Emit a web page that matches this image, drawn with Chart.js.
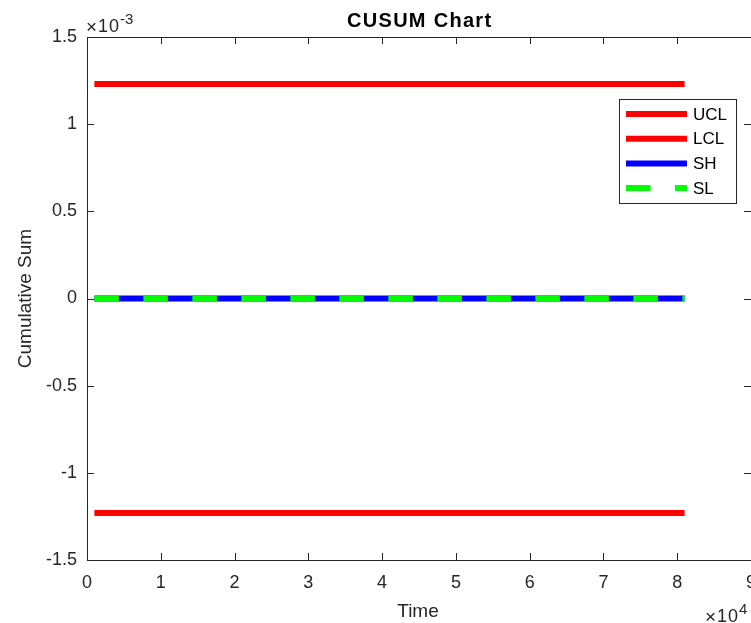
<!DOCTYPE html>
<html lang="en">
<head>
  <meta charset="UTF-8" />
  <title>CUSUM Chart</title>
  <script src="https://cdn.jsdelivr.net/npm/chart.js"></script>
  <style>
    html, body {
      margin: 0;
      padding: 0;
      background: #fff;
      overflow: hidden;
    }
    canvas {
      display: block;
    }
  </style>
</head>
<body>
  <canvas id="cusumChart" width="760" height="623"></canvas>

  <script>
    // Data
    const timePoints = [1000, 81000];
    const uclValues = [0.00123, 0.00123];
    const lclValues = [-0.00123, -0.00123];
    const shValues = [0, 0];
    const slValues = [0, 0];

    const xTickValues = [0, 10000, 20000, 30000, 40000, 50000, 60000, 70000, 80000, 90000];
    const xTickLabels = ['0', '1', '2', '3', '4', '5', '6', '7', '8', '9'];
    const yTickValues = [-0.0015, -0.001, -0.0005, 0, 0.0005, 0.001, 0.0015];
    const yTickLabels = ['-1.5', '-1', '-0.5', '0', '0.5', '1', '1.5'];

    const axisColor = '#262626';
    const fontFamily = '"Liberation Sans", Arial, Helvetica, sans-serif';

    function toPoints(values) {
      return values.map((v, i) => ({ x: timePoints[i], y: v }));
    }

    // x10^n label: thin times sign, base and raised exponent
    function drawExponent(ctx, x, baseline, exp) {
      ctx.textAlign = 'left';
      ctx.textBaseline = 'alphabetic';
      ctx.font = '19px ' + fontFamily;
      ctx.fillText('\u00d7', x - 1, baseline + 1);
      ctx.font = '18px ' + fontFamily;
      ctx.letterSpacing = '1px';
      ctx.fillText('10', x + 11, baseline);
      ctx.letterSpacing = '0px';
      ctx.font = '15px ' + fontFamily;
      ctx.fillText(exp, x + 33, baseline - 8);
    }

    // box, inward ticks, texts and legend drawn in MATLAB style
    const matlabAxes = {
      id: 'matlabAxes',
      afterDraw(chart) {
        const ctx = chart.ctx;
        const area = chart.chartArea;
        const xs = chart.scales.x;
        const ys = chart.scales.y;
        ctx.save();

        ctx.strokeStyle = axisColor;
        ctx.lineWidth = 1;
        ctx.strokeRect(area.left + 0.5, area.top + 0.5, area.right - area.left, area.bottom - area.top);

        ctx.beginPath();
        xTickValues.forEach(v => {
          const px = Math.round(xs.getPixelForValue(v)) + 0.5;
          ctx.moveTo(px, area.bottom);
          ctx.lineTo(px, area.bottom - 7);
          ctx.moveTo(px, area.top);
          ctx.lineTo(px, area.top + 7);
        });
        yTickValues.forEach(v => {
          const py = Math.round(ys.getPixelForValue(v)) + 0.5;
          ctx.moveTo(area.left, py);
          ctx.lineTo(area.left + 7, py);
          ctx.moveTo(area.right, py);
          ctx.lineTo(area.right - 7, py);
        });
        ctx.stroke();

        // title
        ctx.fillStyle = '#000';
        ctx.font = 'bold 20px ' + fontFamily;
        ctx.letterSpacing = '1.3px';
        ctx.textAlign = 'left';
        ctx.textBaseline = 'alphabetic';
        ctx.fillText('CUSUM Chart', 347, 27);
        ctx.letterSpacing = '0px';

        // axis titles
        ctx.fillStyle = axisColor;
        ctx.textAlign = 'center';
        ctx.font = '19px ' + fontFamily;
        ctx.fillText('Time', 418, 617);
        ctx.save();
        ctx.translate(31, (area.top + area.bottom) / 2);
        ctx.rotate(-Math.PI / 2);
        ctx.fillText('Cumulative Sum', 0, 0);
        ctx.restore();

        // exponent labels
        drawExponent(ctx, 87, 32, '-3');
        drawExponent(ctx, 706, 622, '4');

        // legend
        const lx = 619, ly = 99, lw = 117, lh = 104;
        ctx.fillStyle = '#fff';
        ctx.fillRect(lx, ly, lw, lh);
        ctx.strokeStyle = axisColor;
        ctx.strokeRect(lx + 0.5, ly + 0.5, lw, lh);
        ctx.font = '17px ' + fontFamily;
        ctx.textAlign = 'left';
        ctx.textBaseline = 'middle';
        chart.data.datasets.forEach((ds, i) => {
          const cy = 114 + i * 24.7;
          ctx.save();
          ctx.beginPath();
          ctx.rect(lx + 7, cy - 4, 61, 8);
          ctx.clip();
          ctx.strokeStyle = ds.borderColor;
          ctx.lineWidth = ds.borderWidth;
          ctx.setLineDash(ds.borderDash || []);
          ctx.beginPath();
          ctx.moveTo(lx + 7, cy);
          ctx.lineTo(lx + 68, cy);
          ctx.stroke();
          ctx.restore();
          ctx.fillStyle = '#000';
          ctx.fillText(ds.label, lx + 74, cy + 1);
        });

        ctx.restore();
      }
    };

    new Chart(document.getElementById('cusumChart'), {
      type: 'line',
      data: {
        datasets: [
          { label: 'UCL', data: toPoints(uclValues), borderColor: '#ff0000', borderWidth: 6, pointRadius: 0, order: 4 },
          { label: 'LCL', data: toPoints(lclValues), borderColor: '#ff0000', borderWidth: 6, pointRadius: 0, order: 3 },
          { label: 'SH', data: toPoints(shValues), borderColor: '#0000ff', borderWidth: 6, pointRadius: 0, order: 2 },
          { label: 'SL', data: toPoints(slValues), borderColor: '#00ff00', borderWidth: 6, borderDash: [24.5, 24.5], pointRadius: 0, order: 1 }
        ]
      },
      options: {
        responsive: false,
        animation: false,
        layout: { padding: { top: 37, right: 9, left: 0, bottom: 0 } },
        plugins: {
          legend: { display: false },
          title: { display: false },
          tooltip: { enabled: false }
        },
        scales: {
          x: {
            type: 'linear',
            min: 0,
            max: 90000,
            afterBuildTicks: scale => { scale.ticks = xTickValues.map(v => ({ value: v })); },
            afterFit: scale => {
              scale.height = 63;
              scale.paddingLeft = 0;
              scale.paddingRight = 0;
            },
            grid: { display: false, drawTicks: false },
            border: { display: false },
            ticks: {
              color: axisColor,
              font: { family: fontFamily, size: 18 },
              padding: 12,
              maxRotation: 0,
              autoSkip: false,
              callback: (value, index) => xTickLabels[index]
            }
          },
          y: {
            type: 'linear',
            min: -0.0015,
            max: 0.0015,
            afterBuildTicks: scale => { scale.ticks = yTickValues.map(v => ({ value: v })); },
            afterFit: scale => {
              scale.width = 87;
              scale.paddingTop = 0;
              scale.paddingBottom = 0;
            },
            grid: { display: false, drawTicks: false },
            border: { display: false },
            ticks: {
              color: axisColor,
              font: { family: fontFamily, size: 18 },
              padding: 10,
              autoSkip: false,
              callback: (value, index) => yTickLabels[index]
            }
          }
        }
      },
      plugins: [matlabAxes]
    });
  </script>
</body>
</html>
